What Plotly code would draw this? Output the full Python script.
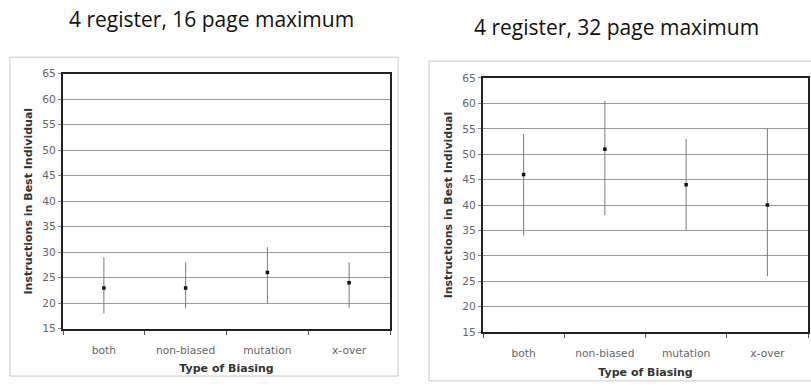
import plotly.graph_objects as go

W, H = 811, 385

categories = ["both", "non-biased", "mutation", "x-over"]

# 4 register, 16 page maximum
mean_16 = [23, 23, 26, 24]
high_16 = [29, 28, 31, 28]
low_16 = [18, 19, 20, 19]

# 4 register, 32 page maximum
mean_32 = [46, 51, 44, 40]
high_32 = [54, 60.5, 53, 55]
low_32 = [34, 38, 35, 26]

titles = ["4 register, 16 page maximum", "4 register, 32 page maximum"]
y_ticks = [15, 20, 25, 30, 35, 40, 45, 50, 55, 60, 65]


def px_x(v):
    return v / W


def px_y(v):
    return 1 - v / H


fig = go.Figure()

panels = [
    (mean_16, high_16, low_16, "x", "y"),
    (mean_32, high_32, low_32, "x2", "y2"),
]
for mean, high, low, xa, ya in panels:
    fig.add_trace(go.Scatter(
        x=categories, y=mean, mode="markers",
        marker=dict(symbol="square", size=3.5, color="#111111"),
        error_y=dict(type="data", symmetric=False,
                     array=[h - m for h, m in zip(high, mean)],
                     arrayminus=[m - l for m, l in zip(mean, low)],
                     color="#7a7a7a", thickness=1, width=0),
        xaxis=xa, yaxis=ya, showlegend=False,
    ))

tick_font = dict(family="DejaVu Sans", size=10.7, color="#666666")
title_font = dict(family="DejaVu Sans", size=11, color="#333333")


def xaxis(domain, anchor):
    return dict(
        domain=domain, anchor=anchor, type="category",
        categoryorder="array", categoryarray=categories,
        range=[-0.5, 3.5], tickson="boundaries", ticks="outside",
        ticklen=4, tickcolor="#555555", tickwidth=1,
        ticklabelstandoff=10,
        showline=True, linecolor="#222222", linewidth=2, mirror=True,
        showgrid=False, zeroline=False, tickfont=tick_font,
        title=dict(text="<b>Type of Biasing</b>", font=title_font, standoff=9),
        fixedrange=True,
    )


def yaxis(domain, anchor):
    return dict(
        domain=domain, anchor=anchor, range=[15, 65],
        tickvals=y_ticks, ticks="outside", ticklen=3, tickcolor="#888888",
        showline=True, linecolor="#222222",
        linewidth=2, mirror=True, showgrid=True, gridcolor="#9a9a9a",
        gridwidth=1, zeroline=False, tickfont=tick_font,
        title=dict(text="<b>Instructions in Best Individual</b>",
                   font=title_font, standoff=7),
        fixedrange=True,
    )


fig.update_layout(
    width=W, height=H,
    margin=dict(l=0, r=0, t=0, b=0),
    paper_bgcolor="white", plot_bgcolor="white",
    xaxis=xaxis([px_x(63), px_x(390)], "y"),
    yaxis=yaxis([px_y(334), px_y(70)], "x"),
    xaxis2=xaxis([px_x(483), px_x(808)], "y2"),
    yaxis2=yaxis([px_y(337.5), px_y(74.5)], "x2"),
    shapes=[
        dict(type="rect", xref="paper", yref="paper",
             x0=px_x(10), x1=px_x(398), y0=px_y(383), y1=px_y(53),
             line=dict(color="#c8c8c8", width=1), layer="below"),
        dict(type="rect", xref="paper", yref="paper",
             x0=px_x(429), x1=px_x(812), y0=px_y(388), y1=px_y(57),
             line=dict(color="#c8c8c8", width=1), layer="below"),
    ],
    annotations=[
        dict(text=titles[0], x=px_x(211), y=px_y(13), xref="paper", yref="paper",
             showarrow=False, xanchor="center", yanchor="middle",
             font=dict(family="Open Sans", size=21, color="#111111")),
        dict(text=titles[1], x=px_x(616), y=px_y(22), xref="paper", yref="paper",
             showarrow=False, xanchor="center", yanchor="middle",
             font=dict(family="Open Sans", size=21, color="#111111")),
    ],
)

fig.write_html("out.html")
